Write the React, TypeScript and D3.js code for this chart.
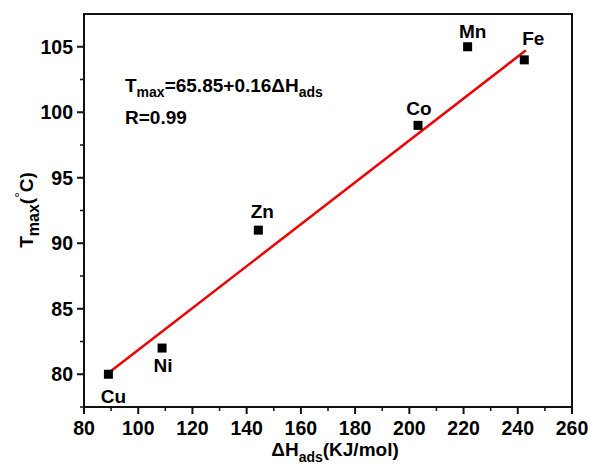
import { useEffect, useRef } from 'react';
import * as d3 from 'd3';

// 資料：金屬、吸附熱、最高溫度
const metals = ['Cu', 'Ni', 'Zn', 'Co', 'Mn', 'Fe'];
const dHads = [89, 108.8, 144.3, 203.2, 221.5, 242.4];
const tMax = [80, 82, 91, 99, 105, 104];

// 擬合直線 Tmax = 65.85 + 0.16 ΔHads
const fitIntercept = 65.85;
const fitSlope = 0.16;
const fitRange = [89, 243];

const xTicks = [80, 100, 120, 140, 160, 180, 200, 220, 240, 260];
const yTicks = [80, 85, 90, 95, 100, 105];

const FONT = 'Liberation Sans, Arial, sans-serif';

const App = () => {
  const svgRef = useRef<SVGSVGElement | null>(null);

  useEffect(() => {
    const width = 590;
    const height = 464;
    const margin = { top: 14, right: 18, bottom: 57, left: 84 };
    const w = width - margin.left - margin.right;
    const h = height - margin.top - margin.bottom;

    const root = d3.select(svgRef.current);
    root.selectAll('*').remove();
    root.attr('width', width).attr('height', height);

    root.append('rect').attr('width', width).attr('height', height).attr('fill', 'white');

    const svg = root.append('g').attr('transform', `translate(${margin.left},${margin.top})`);

    const x = d3.scaleLinear().domain([80, 260]).range([0, w]);
    const y = d3.scaleLinear().domain([77.5, 107.5]).range([h, 0]);

    // 次刻度
    const xMinor = d3.range(90, 260, 20);
    const yMinor = d3.range(77.5, 107.5, 5);

    svg
      .selectAll('.xmajor')
      .data(xTicks)
      .join('line')
      .attr('x1', (d) => x(d))
      .attr('x2', (d) => x(d))
      .attr('y1', h)
      .attr('y2', h + 7)
      .attr('stroke', '#111')
      .attr('stroke-width', 2);
    svg
      .selectAll('.xminor')
      .data(xMinor)
      .join('line')
      .attr('x1', (d) => x(d))
      .attr('x2', (d) => x(d))
      .attr('y1', h)
      .attr('y2', h + 4)
      .attr('stroke', '#111')
      .attr('stroke-width', 1.5);
    svg
      .selectAll('.ymajor')
      .data(yTicks)
      .join('line')
      .attr('x1', 0)
      .attr('x2', -7)
      .attr('y1', (d) => y(d))
      .attr('y2', (d) => y(d))
      .attr('stroke', '#111')
      .attr('stroke-width', 2);
    svg
      .selectAll('.yminor')
      .data(yMinor)
      .join('line')
      .attr('x1', 0)
      .attr('x2', -4)
      .attr('y1', (d) => y(d))
      .attr('y2', (d) => y(d))
      .attr('stroke', '#111')
      .attr('stroke-width', 1.5);

    // 刻度文字
    svg
      .selectAll('.xlabel')
      .data(xTicks)
      .join('text')
      .attr('x', (d) => x(d))
      .attr('y', h + 28)
      .attr('text-anchor', 'middle')
      .style('font-family', FONT)
      .style('font-weight', 'bold')
      .style('font-size', '19.5px')
      .text((d) => d);
    svg
      .selectAll('.ylabel')
      .data(yTicks)
      .join('text')
      .attr('x', -11)
      .attr('y', (d) => y(d))
      .attr('dy', '0.36em')
      .attr('text-anchor', 'end')
      .style('font-family', FONT)
      .style('font-weight', 'bold')
      .style('font-size', '19.5px')
      .text((d) => d);

    // 外框
    svg
      .append('rect')
      .attr('width', w)
      .attr('height', h)
      .attr('fill', 'none')
      .attr('stroke', '#111')
      .attr('stroke-width', 2);

    // 擬合線
    const line = d3
      .line<number>()
      .x((d) => x(d))
      .y((d) => y(fitIntercept + fitSlope * d));
    svg
      .append('path')
      .attr('d', line(fitRange))
      .attr('fill', 'none')
      .attr('stroke', '#ee0000')
      .attr('stroke-width', 2.5);

    // 資料點
    const points = metals.map((m, i) => ({ name: m, x: dHads[i], y: tMax[i] }));
    const size = 9;
    svg
      .selectAll('.pt')
      .data(points)
      .join('rect')
      .attr('x', (d) => x(d.x) - size / 2)
      .attr('y', (d) => y(d.y) - size / 2)
      .attr('width', size)
      .attr('height', size)
      .attr('fill', 'black');

    // 標籤位置偏移
    const offsets: Record<string, [number, number]> = {
      Cu: [5, 29],
      Ni: [1, 24],
      Zn: [4, -12],
      Co: [1, -10],
      Mn: [5, -9],
      Fe: [9, -15],
    };
    svg
      .selectAll('.pname')
      .data(points)
      .join('text')
      .attr('x', (d) => x(d.x) + offsets[d.name][0])
      .attr('y', (d) => y(d.y) + offsets[d.name][1])
      .attr('text-anchor', 'middle')
      .style('font-family', FONT)
      .style('font-weight', 'bold')
      .style('font-size', '19px')
      .text((d) => d.name);

    // 方程式
    const eq = svg
      .append('text')
      .attr('x', 41)
      .attr('y', 78)
      .style('font-family', FONT)
      .style('font-weight', 'bold')
      .style('font-size', '19px');
    eq.append('tspan').text('T');
    eq.append('tspan').attr('dy', 5).style('font-size', '14px').text('max');
    eq.append('tspan').attr('dy', -5).text('=65.85+0.16ΔH');
    eq.append('tspan').attr('dy', 5).style('font-size', '14px').text('ads');
    svg
      .append('text')
      .attr('x', 41)
      .attr('y', 110)
      .style('font-family', FONT)
      .style('font-weight', 'bold')
      .style('font-size', '19px')
      .text('R=0.99');

    // X 軸標題
    const xt = root
      .append('text')
      .attr('x', 335)
      .attr('y', 456)
      .attr('text-anchor', 'middle')
      .style('font-family', FONT)
      .style('font-weight', 'bold')
      .style('font-size', '19px');
    xt.append('tspan').text('ΔH');
    xt.append('tspan').attr('dy', 6).style('font-size', '14px').text('ads');
    xt.append('tspan').attr('dy', -6).text('(KJ/mol)');

    // Y 軸標題
    const yt = root
      .append('text')
      .attr('transform', 'translate(33,210) rotate(-90)')
      .attr('text-anchor', 'middle')
      .style('font-family', FONT)
      .style('font-weight', 'bold')
      .style('font-size', '19px');
    yt.append('tspan').text('T');
    yt.append('tspan').attr('dy', 6).style('font-size', '16px').text('max');
    yt.append('tspan').attr('dy', -6).text('(');
    yt.append('tspan').attr('dy', -8).style('font-size', '14px').style('font-weight', 'normal').text('°');
    yt.append('tspan').attr('dy', 8).text('C)');
  }, []);

  return <svg ref={svgRef} style={{ position: 'absolute', left: 0, top: 0 }}></svg>;
};

export default App;
